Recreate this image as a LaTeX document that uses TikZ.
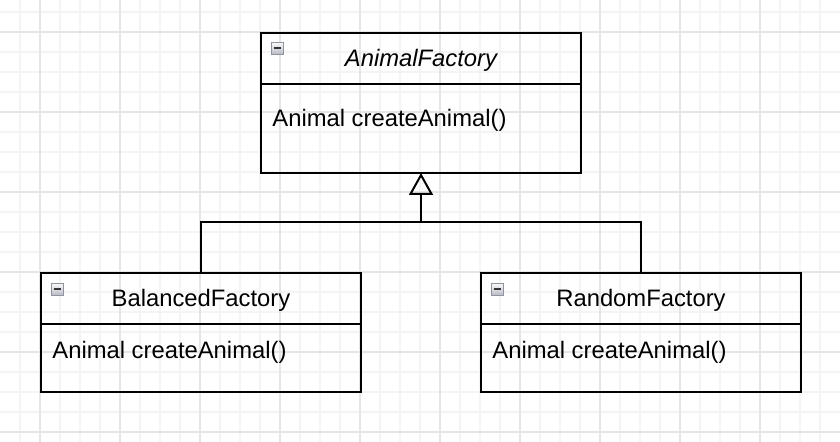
\documentclass[tikz,border=0pt]{standalone}
\usepackage{fontspec}
\setmainfont{Liberation Sans}
\usetikzlibrary{arrows.meta,positioning}
\definecolor{gridlite}{HTML}{F4F4F4}
\definecolor{griddark}{HTML}{E5E5E5}
\definecolor{iconrim}{HTML}{8E959E}
\tikzset{
	head/.style={draw,line width=1pt,outer sep=0pt,inner sep=0pt,minimum width=160pt,
		minimum height=25.5pt,text height=10pt,text depth=2pt},
	body/.style={draw,line width=1pt,outer sep=0pt,inner sep=0pt,minimum width=160pt},
	meth/.style={anchor=base west,inner sep=0pt},
	icon/.style={draw=iconrim,line width=0.4pt,top color=gray!5,bottom color=blue!10!gray!50,
		minimum size=6pt,inner sep=0pt,anchor=north west,
		path picture={\draw[line width=1pt,black!80] ([xshift=1.1pt]path picture bounding box.west) -- ([xshift=-1.1pt]path picture bounding box.east);}},
	conn/.style={line width=1pt}
}
\begin{document}
\begin{tikzpicture}[x=0.5pt,y=-0.5pt,>={Triangle[open,length=11pt,width=12pt]},font=\fontsize{11.9}{14}\selectfont]
	% nền lưới
	\useasboundingbox (0,0) rectangle (840,442);
	\fill[white] (0,0) rectangle (840,442);
	\foreach \gx in {20,40,...,820}
	\draw[gridlite,line width=0.6pt] (\gx,0) -- (\gx,442);
	\foreach \gy in {12,32,...,432}
	\draw[gridlite,line width=0.6pt] (0,\gy) -- (840,\gy);
	\foreach \gx in {40,120,...,760}
	\draw[griddark,line width=0.6pt] (\gx,0) -- (\gx,442);
	\foreach \gy in {32,112,...,432}
	\draw[griddark,line width=0.6pt] (0,\gy) -- (840,\gy);
	% lớp cha
	\node[head,anchor=north west] (af) at (261,33) {\itshape AnimalFactory};
	\node[body,minimum height=44.5pt,below=0pt of af] (afb) {};
	\node[meth] (aft) at ([xshift=5.5pt,yshift=0.75pt]afb.west) {Animal createAnimal()};
	\node[icon] (afi) at ([xshift=5pt,yshift=-4.5pt]af.north west) {};
	% các lớp con
	\node[head,anchor=north west] (bf) at (41,273) {BalancedFactory};
	\node[body,minimum height=34pt,below=0pt of bf] (bfb) {};
	\node[meth] (bft) at ([xshift=5.5pt,yshift=-0.5pt]bfb.west) {Animal createAnimal()};
	\node[icon] (bfi) at ([xshift=5pt,yshift=-5pt]bf.north west) {};
	\node[head,anchor=north west] (rf) at (481,273) {RandomFactory};
	\node[body,minimum height=34pt,below=0pt of rf] (rfb) {};
	\node[meth] (rft) at ([xshift=5.5pt,yshift=-0.5pt]rfb.west) {Animal createAnimal()};
	\node[icon] (rfi) at ([xshift=5pt,yshift=-5pt]rf.north west) {};
	% kế thừa
	\coordinate (jn) at (421,222);
	\draw[conn] (bf.north) -- ++(0,-51) -| (rf.north);
	\draw[conn,->] (jn) -- (afb.south);
\end{tikzpicture}
\end{document}
